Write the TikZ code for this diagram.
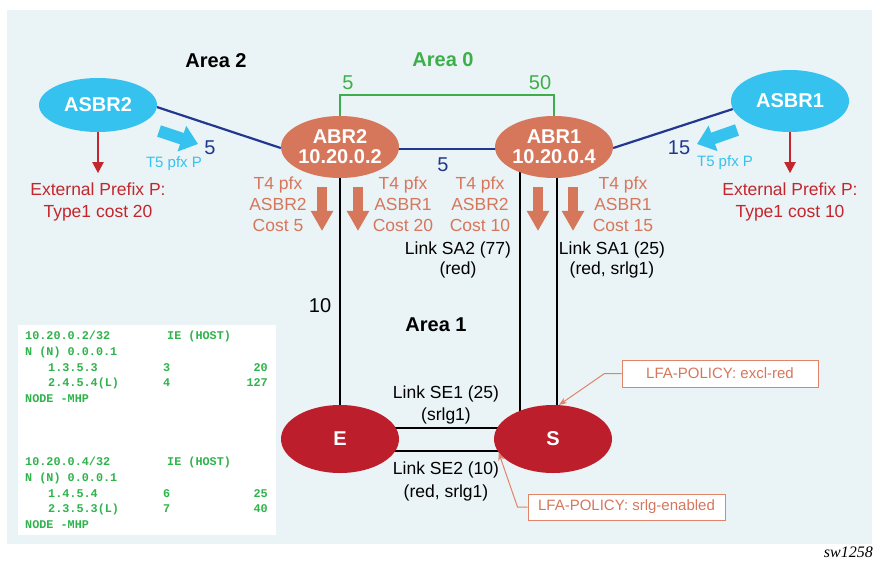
\documentclass[tikz,border=0pt]{standalone}
\usepackage{fontspec}
\setmainfont{Liberation Sans}
\setmonofont{Liberation Mono}
\newfontfamily\serifit{Liberation Serif}
\usetikzlibrary{arrows.meta,shapes.geometric,backgrounds,calc}
\definecolor{panel}{HTML}{EAF3F5}
\definecolor{cyanC}{HTML}{35C2EF}
\definecolor{salC}{HTML}{D6775C}
\definecolor{redC}{HTML}{BD1E2C}
\definecolor{dredC}{HTML}{C4262E}
\definecolor{navyC}{HTML}{22378F}
\definecolor{greenC}{HTML}{3DAE4A}
\definecolor{monoC}{HTML}{2FB34C}
\definecolor{callC}{HTML}{E08468}
\begin{document}
\begin{tikzpicture}[x=1pt,y=-1pt,
  asbr/.style={ellipse, fill=cyanC, minimum width=118pt, minimum height=54pt, inner sep=0pt,
    text=white, font=\fontsize{20}{20}\selectfont\bfseries},
  abr/.style={ellipse, fill=salC, minimum width=116pt, minimum height=62pt, inner sep=0pt,
    text=white, font=\fontsize{20}{20}\selectfont\bfseries, align=center},
  srnode/.style={ellipse, fill=redC, minimum width=118pt, minimum height=68pt, inner sep=0pt,
    text=white, font=\fontsize{20}{20}\selectfont\bfseries},
  lbl/.style={inner sep=0pt, font=\fontsize{17.5}{21}\selectfont, align=center},
  sallbl/.style={lbl, text=salC},
  extlbl/.style={lbl, text=dredC, font=\fontsize{17.5}{22}\selectfont},
  arealbl/.style={inner sep=0pt, font=\fontsize{20}{20}\selectfont\bfseries},
  costlbl/.style={inner sep=0pt, font=\fontsize{20}{20}\selectfont},
  t5lbl/.style={inner sep=0pt, text=cyanC, font=\fontsize{15}{15}\selectfont},
  mono/.style={inner sep=0pt, text=monoC, font=\fontsize{11.8}{14}\selectfont\ttfamily\bfseries},
  callbox/.style={draw=callC, line width=1pt, fill=white, text=salC, inner sep=0pt,
    font=\fontsize{15}{15}\selectfont},
  callline/.style={draw=callC, line width=1pt, -{Stealth[length=8pt,width=6pt]}},
  blockarr/.style={cyanC, line width=12pt, -{Triangle[width=26pt,length=17pt]}},
  salarr/.style={salC, line width=10pt, -{Triangle[width=21pt,length=20pt]}},
  redarr/.style={dredC, line width=2pt, -{Triangle[width=11pt,length=11pt]}},
  blkline/.style={black, line width=2pt},
  navyline/.style={navyC, line width=2.2pt},
  greenline/.style={greenC, line width=1.6pt}
]
\useasboundingbox (0,0) rectangle (874,561);

% main nodes
\node[asbr] (ASBR2) at (98,105) {ASBR2};
\node[asbr, minimum height=62pt] (ASBR1) at (790,101) {ASBR1};
\node[abr] (ABR2) at (340,147) {ABR2\\10.20.0.2};
\node[abr] (ABR1) at (554,147) {ABR1\\10.20.0.4};
\node[srnode] (E) at (340,439) {E};
\node[srnode] (S) at (553,439) {S};
\coordinate (g) at (0,95);

\begin{scope}[on background layer]
  \fill[panel] (7,10) rectangle (872,544);
  \draw[greenline] (ABR2.center) -- (ABR2.center |- g) -- (ABR1.center |- g) -- (ABR1.center);
  \draw[navyline] ([yshift=-2pt]ABR2.center) -- ([yshift=-2pt]ABR1.center);
  \draw[navyline] (ASBR2.-2) -- (ABR2.181);
  \draw[navyline] (ASBR1.188) -- (ABR1.-1);
  \draw[blkline] (ABR2.center) -- (E.center);
  \draw[blkline] ([xshift=-34pt]ABR1.center) -- ([xshift=-33pt]S.center);
  \draw[blkline] ([xshift=3pt]ABR1.center) -- ([xshift=4pt]S.center);
  \draw[blkline] ([yshift=11pt]E.center) -- ([yshift=11pt]S.center);
  \draw[blkline] ([yshift=-12pt]E.center) -- ([yshift=-12pt]S.center);
\end{scope}

% area labels
\node[arealbl] (a2) at (216,61) {Area 2};
\node[arealbl, text=greenC] (a0) at (443,60) {Area 0};
\node[arealbl] (a1) at (436,325) {Area 1};

% costs
\node[costlbl, text=greenC] (c5g) at (348,83) {5};
\node[costlbl, text=greenC] (c50g) at (540,83) {50};
\node[costlbl, text=navyC] (c5b) at (443,165) {5};
\node[costlbl, text=navyC] (c5a) at (210,148) {5};
\node[costlbl, text=navyC] (c15a) at (679,148) {15};
\node[costlbl] (c10) at (320,306) {10};

% T5 arrows
\draw[blockarr] (159,131) -- (198,144);
\draw[blockarr] (737,130) -- (697,144);
\node[t5lbl] (t5l) at (174,164) {T5 pfx P};
\node[t5lbl] (t5r) at (725,163) {T5 pfx P};

% external prefix
\draw[redarr] (ASBR2.south) -- ++(0,41);
\draw[redarr] (ASBR1.south) -- ++(0,41);
\node[extlbl] (ext2) at (98,202) {External Prefix P:\\Type1 cost 20};
\node[extlbl] (ext1) at (790,202) {External Prefix P:\\Type1 cost 10};

% T4 arrows and labels
\draw[salarr] (322,187) -- (322,231);
\draw[salarr] (358,187) -- (358,231);
\draw[salarr] (538,187) -- (538,231);
\draw[salarr] (573,187) -- (573,231);
\node[sallbl] (t4a) at (278,204) {T4 pfx\\ASBR2\\Cost 5};
\node[sallbl] (t4b) at (403,204) {T4 pfx\\ASBR1\\Cost 20};
\node[sallbl] (t4c) at (480,204) {T4 pfx\\ASBR2\\Cost 10};
\node[sallbl] (t4d) at (623,204) {T4 pfx\\ASBR1\\Cost 15};

% link labels
\node[lbl, font=\fontsize{17.5}{20}\selectfont] (sa2) at (458,260) {Link SA2 (77)\\(red)};
\node[lbl, font=\fontsize{17.5}{20}\selectfont] (sa1) at (612,260) {Link SA1 (25)\\(red, srlg1)};
\node[lbl, font=\fontsize{17.5}{22}\selectfont] (se1) at (446,405) {Link SE1 (25)\\(srlg1)};
\node[lbl, font=\fontsize{17.5}{23}\selectfont] (se2) at (446,481) {Link SE2 (10)\\(red, srlg1)};

% callouts
\node[callbox, minimum width=196pt, minimum height=27pt] (excl) at (720,373.5) {LFA-POLICY: excl-red};
\node[callbox, minimum width=197pt, minimum height=26pt] (srlg) at (626.5,507) {LFA-POLICY: srlg-enabled};
\draw[callline] (excl.west) -- ++(-17,0) -- (S.80);
\draw[callline] (srlg.west) -- ++(-10,0) -- (S.194);

% table box
\fill[white] (18,325) rectangle (276,535);
\node[mono, anchor=base west] (r1) at (25,339) {10.20.0.2/32};
\node[mono, anchor=base west] (r1b) at (167,339) {IE (HOST)};
\node[mono, anchor=base west] (r2) at (25,355) {N (N) 0.0.0.1};
\node[mono, anchor=base west] (r3) at (48,371) {1.3.5.3};
\node[mono, anchor=base west] (r3b) at (163,371) {3};
\node[mono, anchor=base east] (r3c) at (268,371) {20};
\node[mono, anchor=base west] (r4) at (48,386) {2.4.5.4(L)};
\node[mono, anchor=base west] (r4b) at (163,386) {4};
\node[mono, anchor=base east] (r4c) at (268,386) {127};
\node[mono, anchor=base west] (r5) at (25,402) {NODE -MHP};
\node[mono, anchor=base west] (s1) at (25,465) {10.20.0.4/32};
\node[mono, anchor=base west] (s1b) at (167,465) {IE (HOST)};
\node[mono, anchor=base west] (s2) at (25,481) {N (N) 0.0.0.1};
\node[mono, anchor=base west] (s3) at (48,497) {1.4.5.4};
\node[mono, anchor=base west] (s3b) at (163,497) {6};
\node[mono, anchor=base east] (s3c) at (268,497) {25};
\node[mono, anchor=base west] (s4) at (48,512) {2.3.5.3(L)};
\node[mono, anchor=base west] (s4b) at (163,512) {7};
\node[mono, anchor=base east] (s4c) at (268,512) {40};
\node[mono, anchor=base west] (s5) at (25,528) {NODE -MHP};

% figure id
\node[inner sep=0pt, anchor=base east, font=\serifit\itshape\fontsize{16}{16}\selectfont] (sw) at (873,557) {sw1258};
\end{tikzpicture}
\end{document}
